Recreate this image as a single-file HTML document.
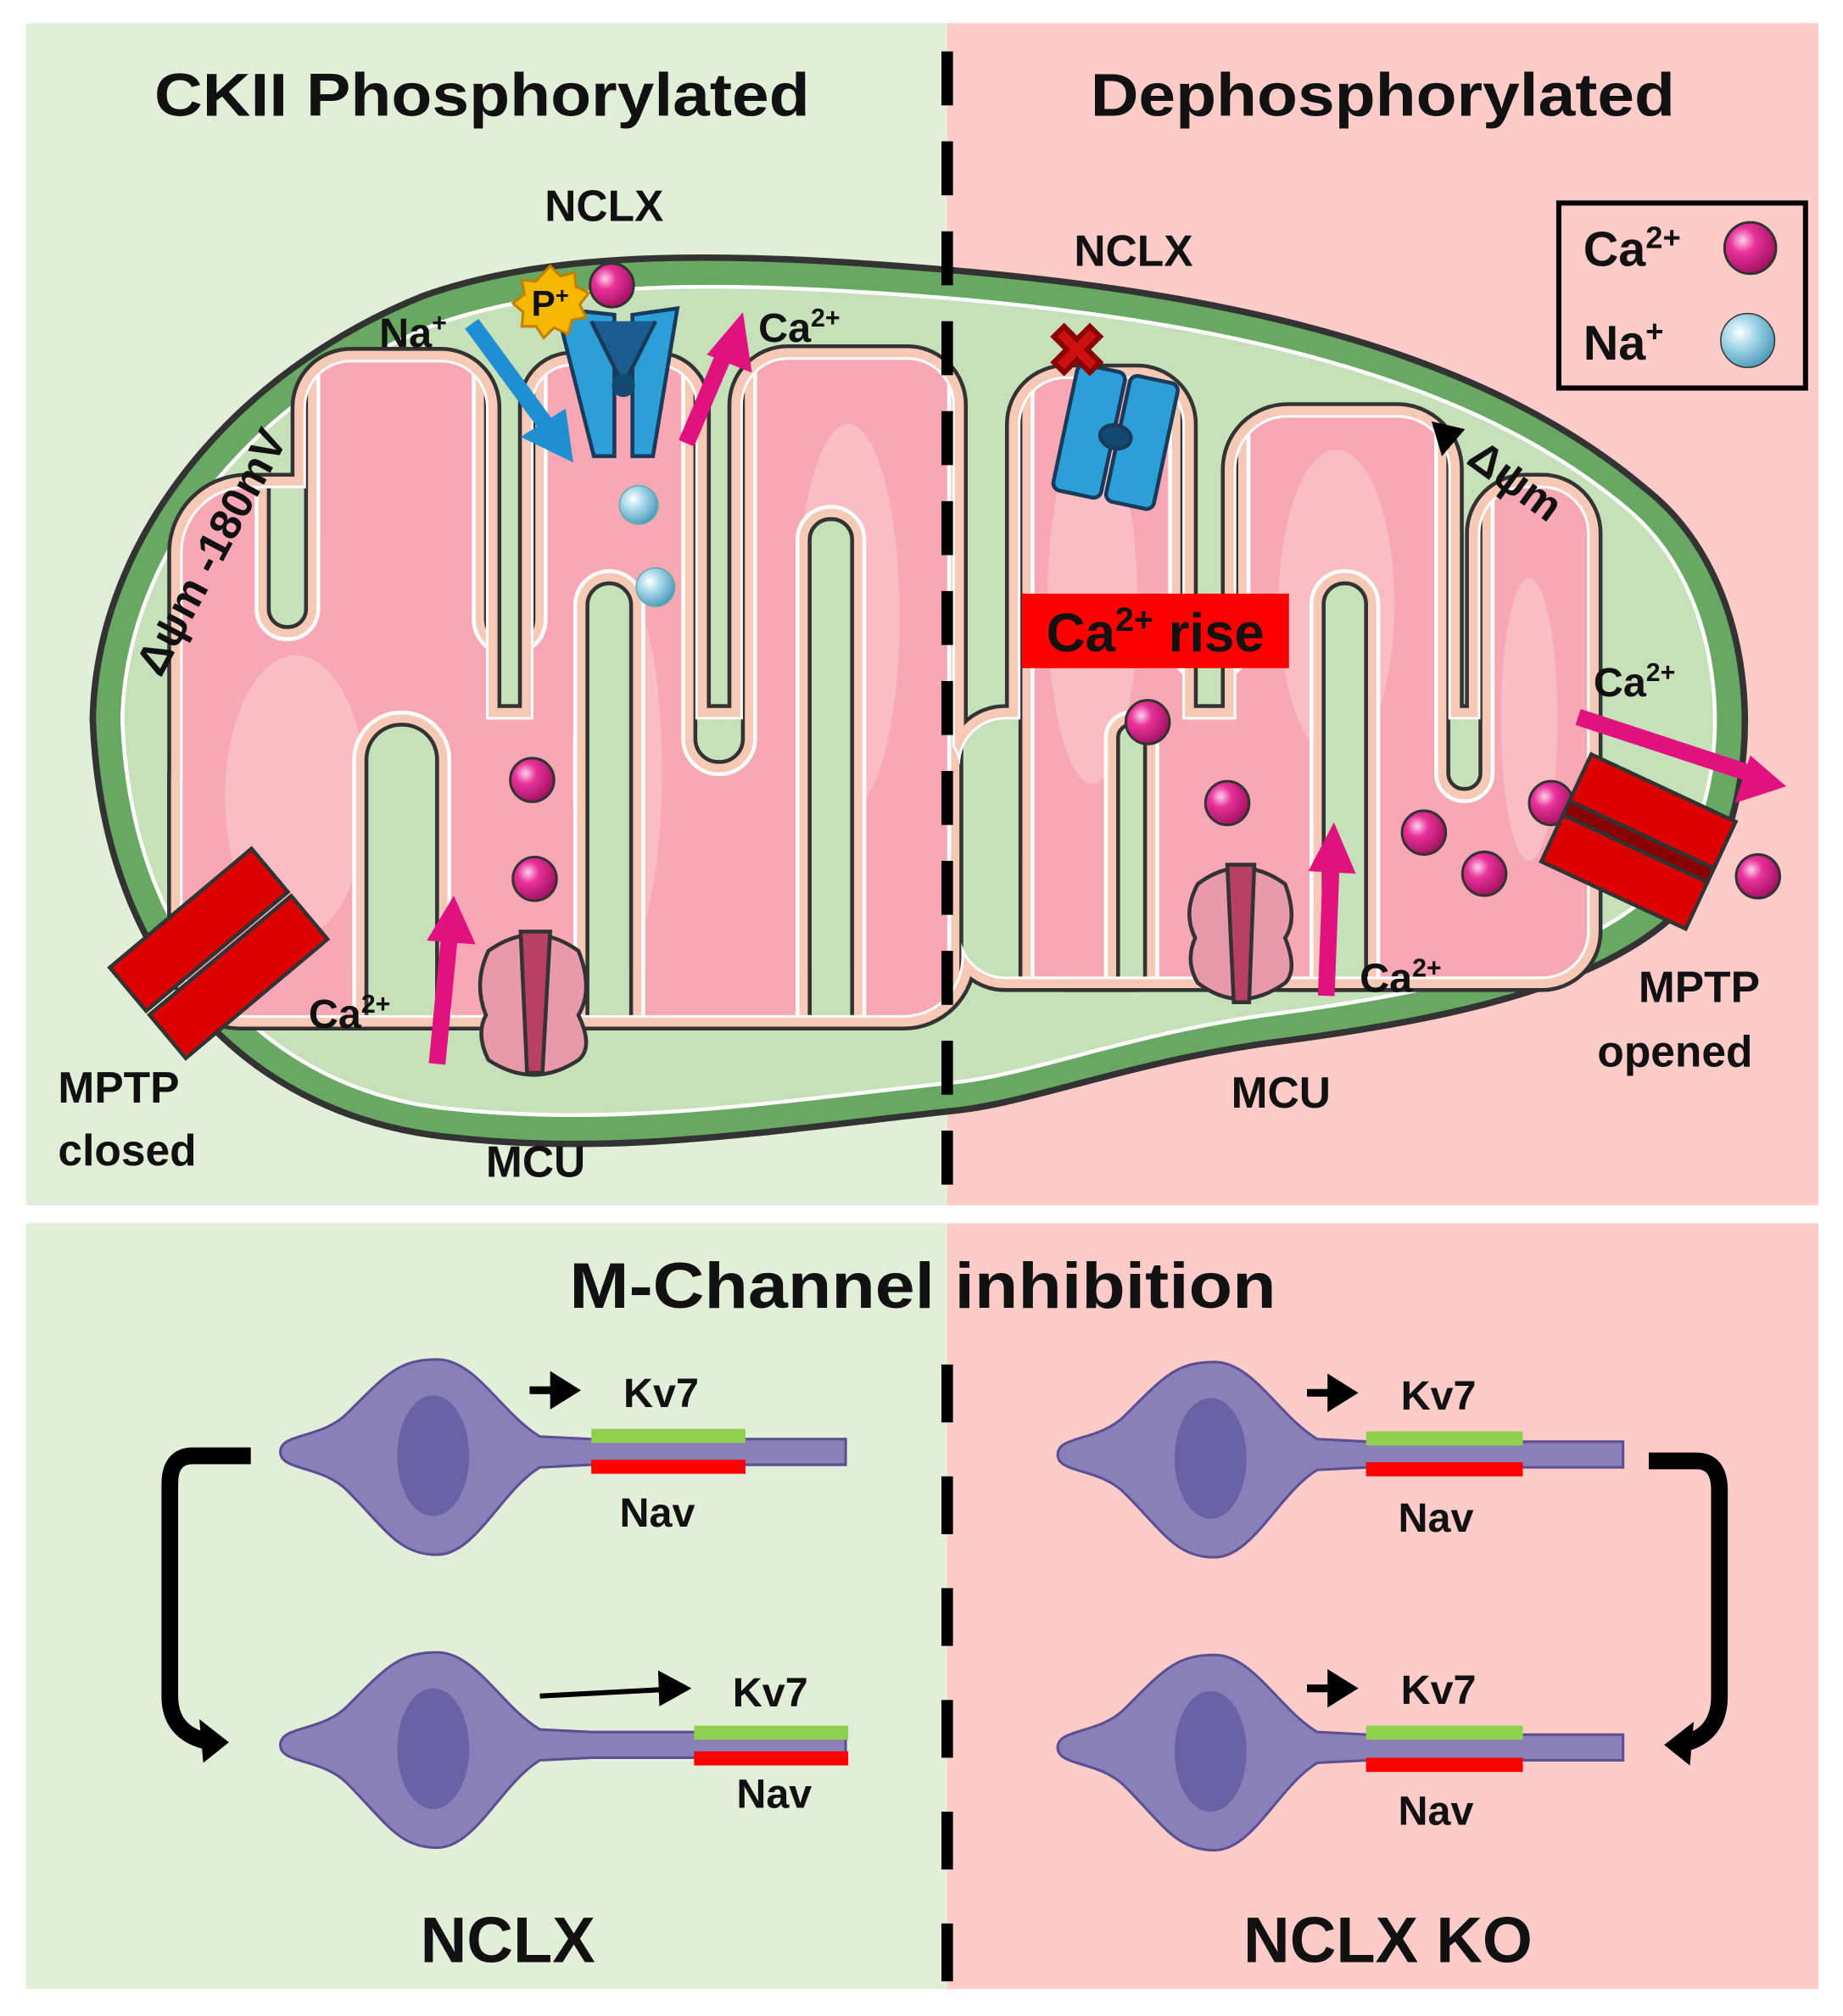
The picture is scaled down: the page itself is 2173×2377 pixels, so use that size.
<!DOCTYPE html>
<html><head><meta charset="utf-8"><style>
html,body{margin:0;padding:0;background:#fff}
svg{display:block}
text{font-family:"Liberation Sans",sans-serif;font-weight:bold;fill:#111}
</style></head><body>
<svg width="2173" height="2377" viewBox="0 0 1434 1569" xmlns="http://www.w3.org/2000/svg">
<defs>
<radialGradient id="ca" cx="0.35" cy="0.35" r="0.7"><stop offset="0" stop-color="#ffd0ea"/><stop offset="0.35" stop-color="#e8329a"/><stop offset="1" stop-color="#a0105e"/></radialGradient>
<radialGradient id="na" cx="0.35" cy="0.35" r="0.7"><stop offset="0" stop-color="#ffffff"/><stop offset="0.4" stop-color="#a8d8ea"/><stop offset="1" stop-color="#4a9ab8"/></radialGradient>
<clipPath id="pk">
<rect x="142" y="380" width="158" height="410" rx="50"/>
<rect x="238" y="282" width="140" height="318" rx="35"/>
<rect x="415" y="285" width="126" height="505" rx="30"/>
<rect x="578" y="280" width="163" height="480" rx="35"/>
<rect x="794" y="295" width="126" height="465" rx="35"/>
<rect x="962" y="325" width="165" height="435" rx="40"/>
<rect x="1152" y="380" width="83" height="340" rx="35"/>
<rect x="142" y="560" width="606" height="230" rx="45"/>
<rect x="747" y="560" width="488" height="200" rx="35"/>
</clipPath>
<g id="pinkset">
<rect x="142" y="380" width="158" height="410" rx="50"/>
<rect x="238" y="282" width="140" height="318" rx="35"/>
<rect x="415" y="285" width="126" height="505" rx="30"/>
<rect x="578" y="280" width="163" height="480" rx="35"/>
<rect x="794" y="295" width="126" height="465" rx="35"/>
<rect x="962" y="325" width="165" height="435" rx="40"/>
<rect x="1152" y="380" width="83" height="340" rx="35"/>
<rect x="142" y="560" width="606" height="230" rx="45"/>
<rect x="747" y="560" width="488" height="200" rx="35"/>
</g>
<g id="fingers">
<rect x="209" y="150" width="29" height="338" rx="14"/>
<rect x="378" y="150" width="37" height="350" rx="18"/>
<rect x="541" y="150" width="37" height="443" rx="18"/>
<rect x="748" y="150" width="46" height="800" rx="20"/>
<rect x="920" y="150" width="42" height="371" rx="20"/>
<rect x="1127" y="150" width="25" height="464" rx="12"/>
<rect x="285" y="564" width="55" height="400" rx="27"/>
<rect x="457" y="454" width="34" height="500" rx="17"/>
<rect x="630" y="404" width="33" height="550" rx="16"/>
<rect x="870" y="564" width="21" height="400" rx="10"/>
<rect x="1030" y="454" width="33" height="500" rx="16"/>
</g>
<g id="neuron">
<path d="M-122 0 C-122 -15 -90 -10 -70 -30 C-40 -60 -30 -72 0 -72 C30 -72 50 -30 80 -12 L120 -10 L318 -10 L318 10 L120 10 L80 12 C50 30 30 80 0 80 C-30 80 -40 60 -70 30 C-90 10 -122 15 -122 0 Z" fill="#8a80b9" stroke="#5a4f90" stroke-width="2"/>
<ellipse cx="-3" cy="3" rx="28" ry="47" fill="#6a62a2"/>
</g>
</defs>

<rect x="20" y="18" width="717" height="920" fill="#e1eed8"/>
<rect x="737" y="18" width="678" height="920" fill="#fdcbc8"/>
<rect x="20" y="952" width="717" height="596" fill="#e1eed8"/>
<rect x="737" y="952" width="678" height="596" fill="#fdcbc8"/>

<path d="M72 560 C75 420 180 290 330 230 C430 195 560 195 737 210 C950 228 1150 270 1280 380 C1370 450 1375 600 1330 680 C1280 760 1150 790 1000 810 C880 825 800 860 737 865 C600 880 480 900 350 885 C200 870 80 760 72 560 Z" fill="#68a862" stroke="#333" stroke-width="5"/>
<path d="M95 560 C98 430 195 310 340 252 C440 218 560 218 737 232 C945 250 1140 290 1265 395 C1345 460 1350 595 1310 665 C1265 738 1145 768 1000 788 C880 803 800 838 737 843 C600 858 480 877 350 863 C215 850 102 745 95 560 Z" fill="#c6e0ba" stroke="#fff" stroke-width="3"/>

<use href="#pinkset" fill="#333" stroke="#333" stroke-width="24"/>
<use href="#pinkset" fill="#f5c9b6" stroke="#f5c9b6" stroke-width="18"/>
<use href="#pinkset" fill="#fff" stroke="#fff" stroke-width="4"/>
<use href="#pinkset" fill="#f7a8b4"/>
<g fill="#f9c3c8" opacity="0.8">
<ellipse cx="230" cy="620" rx="55" ry="110"/>
<ellipse cx="480" cy="600" rx="35" ry="150"/>
<ellipse cx="660" cy="480" rx="40" ry="150"/>
<ellipse cx="850" cy="470" rx="35" ry="140"/>
<ellipse cx="1040" cy="470" rx="45" ry="120"/>
<ellipse cx="1190" cy="560" rx="22" ry="110"/>
</g>
<g clip-path="url(#pk)">
<use href="#fingers" fill="none" stroke="#fff" stroke-width="22"/>
<use href="#fingers" fill="none" stroke="#f5c9b6" stroke-width="16"/>
<use href="#fingers" fill="#c6e0ba" stroke="#333" stroke-width="3"/>
</g>

<line x1="737" y1="40" x2="737" y2="932" stroke="#000" stroke-width="9" stroke-dasharray="42 28"/>
<line x1="737" y1="1062" x2="737" y2="1548" stroke="#000" stroke-width="9" stroke-dasharray="45 42"/>

<text x="375" y="90" font-size="47" text-anchor="middle" textLength="510" lengthAdjust="spacingAndGlyphs">CKII Phosphorylated</text>
<text x="1076" y="90" font-size="47" text-anchor="middle" textLength="455" lengthAdjust="spacingAndGlyphs">Dephosphorylated</text>
<text x="470" y="172" font-size="34" text-anchor="middle">NCLX</text>
<text x="882" y="207" font-size="34" text-anchor="middle">NCLX</text>

<rect x="1213" y="158" width="192" height="144" fill="none" stroke="#000" stroke-width="4"/>
<text x="1232" y="207" font-size="38">Ca<tspan font-size="24" dy="-14">2+</tspan></text>
<circle cx="1362" cy="193" r="20" fill="url(#ca)" stroke="#333" stroke-width="2"/>
<text x="1232" y="280" font-size="38">Na<tspan font-size="24" dy="-14">+</tspan></text>
<circle cx="1360" cy="265" r="21" fill="url(#na)" stroke="#333" stroke-width="1"/>

<g stroke="#1a3a5a" stroke-width="3">
<path d="M433 240 L478 245 L478 355 L462 355 Z" fill="#2c9ed8"/>
<path d="M527 240 L492 245 L492 355 L508 355 Z" fill="#2c9ed8"/>
<path d="M460 250 L485 300 L510 250" fill="#1a5d8e"/>
</g>
<circle cx="485" cy="300" r="9" fill="#154a70"/>
<polygon points="428,207 436,215 447,212 448,223 458,228 451,237 456,247 445,249 442,260 431,255 423,263 417,254 406,254 407,243 399,236 408,229 406,218 417,219" fill="#f5b800" stroke="#c08000" stroke-width="2"/>
<text x="428" y="246" font-size="28" text-anchor="middle">P<tspan font-size="18" dy="-10">+</tspan></text>
<circle cx="476" cy="222" r="17" fill="url(#ca)" stroke="#333" stroke-width="2"/>
<text x="295" y="270" font-size="32">Na<tspan font-size="20" dy="-12">+</tspan></text>
<line x1="367" y1="252" x2="428" y2="335" stroke="#1e8fd0" stroke-width="13"/>
<polygon points="446,360 405,340 440,318" fill="#1e8fd0"/>
<line x1="534" y1="345" x2="566" y2="270" stroke="#e0127f" stroke-width="13"/>
<polygon points="578,243 585,290 550,276" fill="#e0127f"/>
<text x="590" y="266" font-size="32">Ca<tspan font-size="20" dy="-12">2+</tspan></text>
<circle cx="497" cy="393" r="15" fill="url(#na)" stroke="#6aa" stroke-width="1"/>
<circle cx="510" cy="457" r="15" fill="url(#na)" stroke="#6aa" stroke-width="1"/>
<circle cx="414" cy="607" r="17" fill="url(#ca)" stroke="#333" stroke-width="2"/>
<circle cx="416" cy="684" r="17" fill="url(#ca)" stroke="#333" stroke-width="2"/>

<g stroke="#333" stroke-width="3">
<path d="M380 740 Q415 715 450 740 Q462 770 450 790 Q462 815 450 825 Q415 848 380 825 Q370 805 378 790 Q368 765 380 740 Z" fill="#e79aa9"/>
<path d="M405 725 L428 725 L422 835 L410 835 Z" fill="#b84062"/>
</g>
<line x1="340" y1="828" x2="350" y2="725" stroke="#e0127f" stroke-width="13"/>
<polygon points="353,697 370,735 332,732" fill="#e0127f"/>
<text x="240" y="800" font-size="32">Ca<tspan font-size="20" dy="-12">2+</tspan></text>

<g transform="translate(170,742) rotate(-40)" stroke="#333" stroke-width="3">
<rect x="-72" y="-46" width="144" height="44" fill="#dd0000"/>
<rect x="-72" y="2" width="144" height="44" fill="#dd0000"/>
</g>
<text x="45" y="858" font-size="34">MPTP</text>
<text x="45" y="907" font-size="34">closed</text>
<text x="378" y="916" font-size="34">MCU</text>
<text transform="translate(125,528) rotate(-62)" font-size="34">Δψm -180mV</text>

<g transform="translate(868,340) rotate(12)" stroke="#1a3a5a" stroke-width="3">
<rect x="-40" y="-50" width="38" height="100" rx="6" fill="#2c9ed8"/>
<rect x="2" y="-50" width="38" height="100" rx="6" fill="#2c9ed8"/>
<ellipse cx="0" cy="0" rx="12" ry="9" fill="#154a70"/>
</g>
<g stroke="#8a0000" stroke-width="4" fill="#cc1010">
<path d="M820 262 L828 254 L838 264 L848 254 L856 262 L846 272 L856 282 L848 290 L838 280 L828 290 L820 282 L830 272 Z"/>
</g>
<polygon points="1114,328 1140,334 1122,355" fill="#000"/>
<text transform="translate(1140,360) rotate(36)" font-size="34">Δψm</text>

<rect x="795" y="462" width="208" height="58" fill="#ff0000"/>
<text x="899" y="507" font-size="42" text-anchor="middle">Ca<tspan font-size="26" dy="-16">2+</tspan><tspan dy="16"> rise</tspan></text>

<g stroke="#333" stroke-width="2" fill="url(#ca)">
<circle cx="893" cy="562" r="17"/>
<circle cx="955" cy="625" r="17"/>
<circle cx="1108" cy="648" r="17"/>
<circle cx="1155" cy="680" r="17"/>
<circle cx="1207" cy="625" r="17"/>
<circle cx="1368" cy="682" r="17"/>
</g>

<g stroke="#333" stroke-width="3">
<path d="M932 688 Q965 663 1000 688 Q1010 715 1000 730 Q1010 755 1000 765 Q965 790 932 765 Q922 748 930 730 Q920 710 932 688 Z" fill="#e79aa9"/>
<path d="M955 673 L976 673 L972 780 L960 780 Z" fill="#b84062"/>
</g>
<line x1="1032" y1="775" x2="1036" y2="670" stroke="#e0127f" stroke-width="13"/>
<polygon points="1038,640 1055,680 1018,678" fill="#e0127f"/>
<text x="1058" y="772" font-size="32">Ca<tspan font-size="20" dy="-12">2+</tspan></text>

<g transform="translate(1275,655) rotate(25)" stroke="#333" stroke-width="3">
<rect x="-62" y="-46" width="124" height="40" fill="#dd0000"/>
<rect x="-62" y="-6" width="124" height="12" fill="#8a0000"/>
<rect x="-62" y="6" width="124" height="40" fill="#dd0000"/>
</g>
<line x1="1228" y1="558" x2="1362" y2="602" stroke="#e0127f" stroke-width="13"/>
<polygon points="1390,612 1350,625 1362,588" fill="#e0127f"/>
<text x="1240" y="542" font-size="32">Ca<tspan font-size="20" dy="-12">2+</tspan></text>
<text x="1275" y="780" font-size="34">MPTP</text>
<text x="1243" y="830" font-size="34">opened</text>
<text x="958" y="862" font-size="34">MCU</text>

<text x="718" y="1018" font-size="50" text-anchor="middle" textLength="550" lengthAdjust="spacingAndGlyphs">M-Channel inhibition</text>

<use href="#neuron" x="340" y="1130"/>
<rect x="460" y="1112" width="120" height="11" fill="#8fd14f"/>
<rect x="460" y="1136" width="120" height="11" fill="#ff0000"/>
<text x="485" y="1095" font-size="32">Kv7</text>
<text x="482" y="1188" font-size="32">Nav</text>
<line x1="412" y1="1082" x2="432" y2="1082" stroke="#000" stroke-width="6"/>
<polygon points="452,1082 428,1067 428,1097" fill="#000"/>

<use href="#neuron" x="340" y="1358"/>
<rect x="540" y="1343" width="120" height="11" fill="#8fd14f"/>
<rect x="540" y="1363" width="120" height="11" fill="#ff0000"/>
<text x="570" y="1328" font-size="32">Kv7</text>
<text x="573" y="1407" font-size="32">Nav</text>
<line x1="420" y1="1320" x2="515" y2="1315" stroke="#000" stroke-width="4"/>
<polygon points="538,1314 512,1300 513,1328" fill="#000"/>

<use href="#neuron" x="945" y="1132"/>
<rect x="1063" y="1114" width="122" height="11" fill="#8fd14f"/>
<rect x="1063" y="1138" width="122" height="11" fill="#ff0000"/>
<text x="1090" y="1097" font-size="32">Kv7</text>
<text x="1088" y="1192" font-size="32">Nav</text>
<line x1="1017" y1="1084" x2="1037" y2="1084" stroke="#000" stroke-width="6"/>
<polygon points="1057,1084 1033,1069 1033,1099" fill="#000"/>

<use href="#neuron" x="945" y="1360"/>
<rect x="1063" y="1343" width="122" height="11" fill="#8fd14f"/>
<rect x="1063" y="1368" width="122" height="11" fill="#ff0000"/>
<text x="1090" y="1326" font-size="32">Kv7</text>
<text x="1088" y="1420" font-size="32">Nav</text>
<line x1="1017" y1="1314" x2="1037" y2="1314" stroke="#000" stroke-width="6"/>
<polygon points="1057,1314 1033,1299 1033,1329" fill="#000"/>

<path d="M195 1133 L150 1133 Q132 1133 132 1155 L132 1320 Q132 1348 160 1355" fill="none" stroke="#000" stroke-width="13"/>
<polygon points="178,1356 155,1338 158,1372" fill="#000"/>
<path d="M1283 1137 L1320 1137 Q1338 1137 1338 1160 L1338 1320 Q1338 1350 1310 1357" fill="none" stroke="#000" stroke-width="13"/>
<polygon points="1295,1358 1318,1340 1315,1374" fill="#000"/>

<text x="395" y="1527" font-size="50" text-anchor="middle">NCLX</text>
<text x="1080" y="1527" font-size="50" text-anchor="middle">NCLX KO</text>
</svg>
</body></html>
